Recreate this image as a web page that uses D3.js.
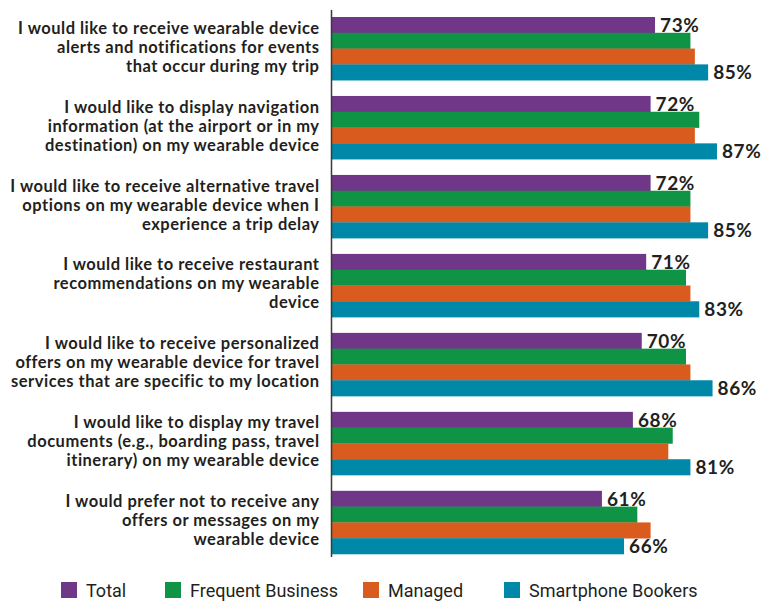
<!DOCTYPE html>
<html>
<head>
<meta charset="utf-8">
<script src="https://cdn.jsdelivr.net/npm/d3@7"></script>
<style>
  body { margin: 0; background: #fff; }
</style>
</head>
<body>
<div id="chart"></div>
<script>
// categories (one entry per bar group, split in lines like the original)
const categories = [
  ["I would like to receive wearable device", "alerts and notifications for events", "that occur during my trip"],
  ["I would like to display navigation", "information (at the airport or in my", "destination) on my wearable device"],
  ["I would like to receive alternative travel", "options on my wearable device when I", "experience a trip delay"],
  ["I would like to receive restaurant", "recommendations on my wearable", "device"],
  ["I would like to receive personalized", "offers on my wearable device for travel", "services that are specific to my location"],
  ["I would like to display my travel", "documents (e.g., boarding pass, travel", "itinerary) on my wearable device"],
  ["I would prefer not to receive any", "offers or messages on my", "wearable device"]
];

const seriesNames = ["Total", "Frequent Business", "Managed", "Smartphone Bookers"];
const seriesColors = ["#703688", "#0f9345", "#d95b1e", "#0088a9"];

// values per series, same order as categories
const total      = [73, 72, 72, 71, 70, 68, 61];
const frequent   = [81, 83, 81, 80, 80, 77, 69];
const managed    = [82, 82, 81, 81, 81, 76, 72];
const smartphone = [85, 87, 85, 83, 86, 81, 66];

// which series get a value label
const labelled = ["Total", "Smartphone Bookers"];

const seriesValues = [total, frequent, managed, smartphone];

const width = 764, height = 602;
const x0 = 332;

const svg = d3.select("#chart").append("svg")
  .attr("width", width)
  .attr("height", height);

const rows = categories.map((c, i) => ({
  idx: i,
  lines: c,
  values: seriesNames.map((s, j) => ({ key: s, value: seriesValues[j][i], color: seriesColors[j] }))
}));

const xScale = d3.scaleLinear().domain([0, 100]).range([x0, x0 + 442.5]);

const yScale = d3.scaleBand()
  .domain(d3.range(categories.length))
  .range([17, 554])
  .paddingInner(0.2)
  .paddingOuter(0);

const ySub = d3.scaleBand()
  .domain(seriesNames)
  .range([0, yScale.bandwidth()]);

const groups = svg.append("g")
  .attr("class", "groups")
  .selectAll("g.group")
  .data(rows)
  .enter()
  .append("g")
  .attr("class", "group")
  .attr("transform", d => `translate(0,${yScale(d.idx)})`);

groups.selectAll("rect")
  .data(d => d.values)
  .enter()
  .append("rect")
  .attr("x", xScale(0))
  .attr("y", d => ySub(d.key))
  .attr("width", d => xScale(d.value) - xScale(0))
  .attr("height", ySub.bandwidth() + 0.3)
  .attr("fill", d => d.color);

groups.selectAll("text.val")
  .data(d => d.values.filter(v => labelled.includes(v.key)))
  .enter()
  .append("text")
  .attr("class", "val")
  .attr("x", d => xScale(d.value) + 5)
  .attr("y", d => ySub(d.key) + ySub.bandwidth() - 1)
  .attr("font-family", "Lato, sans-serif")
  .attr("font-weight", "bold")
  .attr("font-size", "19px")
  .attr("letter-spacing", "0.6px")
  .attr("fill", "#231f20")
  .text(d => d.value + "%");

// category labels, right aligned next to the axis
const lineH = 19;
groups.append("text")
  .attr("class", "cat")
  .attr("text-anchor", "end")
  .attr("font-family", "Lato, sans-serif")
  .attr("font-weight", "bold")
  .attr("font-size", "16.5px")
  .attr("letter-spacing", "0.5px")
  .attr("fill", "#231f20")
  .selectAll("tspan")
  .data(d => d.lines)
  .enter()
  .append("tspan")
  .attr("x", 319.5)
  .attr("y", (l, i) => yScale.bandwidth() / 2 + 4 + (i - 1) * lineH)
  .text(l => l);

// vertical axis line
svg.append("line")
  .attr("x1", x0 - 0.5)
  .attr("x2", x0 - 0.5)
  .attr("y1", 10)
  .attr("y2", 557)
  .attr("stroke", "#3a3a3a")
  .attr("stroke-width", 1.5);

// legend
const legendX = [61, 165, 363, 504];
const legend = svg.append("g")
  .attr("class", "legend")
  .selectAll("g")
  .data(seriesNames)
  .enter()
  .append("g")
  .attr("transform", (d, i) => `translate(${legendX[i]},582)`);

legend.append("rect")
  .attr("width", 16)
  .attr("height", 16)
  .attr("fill", (d, i) => seriesColors[i]);

legend.append("text")
  .attr("x", 25)
  .attr("y", 15)
  .attr("font-family", "Roboto, sans-serif")
  .attr("font-size", "18px")
  .attr("fill", "#231f20")
  .text(d => d);
</script>
</body>
</html>
